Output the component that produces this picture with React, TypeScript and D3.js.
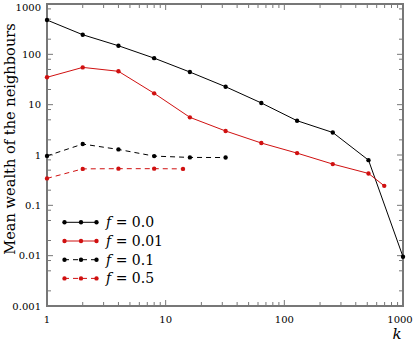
import React, { useEffect, useRef } from 'react';
import * as d3 from 'd3';

// degree k and mean wealth of neighbours for each f
const k0 = [1, 2, 4, 8, 16, 32, 64, 128, 256, 512, 1000];
const w0 = [480, 245, 148, 84, 44.5, 22.7, 10.8, 4.8, 2.8, 0.79, 0.0095];
const k1 = [1, 2, 4, 8, 16, 32, 64, 128, 256, 512, 695];
const w1 = [35, 55, 46, 16.8, 5.6, 3.0, 1.73, 1.09, 0.66, 0.43, 0.244];
const k2 = [1, 2, 4, 8, 16, 32];
const w2 = [0.96, 1.65, 1.29, 0.95, 0.895, 0.89];
const k3 = [1, 2, 4, 8, 14];
const w3 = [0.343, 0.53, 0.535, 0.535, 0.53];
const seriesLabels = ['0.0', '0.01', '0.1', '0.5'];
const yTickLabels = ['0.001', '0.01', '0.1', '1', '10', '100', '1000'];
const xTickLabels = ['1', '10', '100', '1000'];

const App = () => {
  const ref = useRef(null);

  useEffect(() => {
    const width = 415;
    const height = 342;
    const left = 47, right = 403, top = 4, bottom = 306;
    const axisColor = '#777';
    const font = '"DejaVu Serif", serif';

    const svg = d3.select(ref.current);
    svg.selectAll('*').remove();
    svg.attr('width', width).attr('height', height);

    const x = d3.scaleLog().domain([1, 1000]).range([left, right]);
    const y = d3.scaleLog().domain([0.001, 1000]).range([bottom, top]);

    const series = [
      { k: k0, w: w0, color: '#000', dash: null },
      { k: k1, w: w1, color: '#d01010', dash: null },
      { k: k2, w: w2, color: '#000', dash: '5,4' },
      { k: k3, w: w3, color: '#d01010', dash: '5,4' },
    ];

    // ticks: x minor 2..9, y minor 2,5,8
    const g = svg.append('g').attr('stroke', axisColor).attr('stroke-width', 1);
    for (let d = 1; d <= 1000; d *= 10) {
      const xs = [d];
      if (d < 1000) for (let m = 2; m <= 9; m++) xs.push(d * m);
      xs.forEach((v, i) => {
        const len = i === 0 ? 6 : 4;
        g.append('line').attr('x1', x(v)).attr('x2', x(v)).attr('y1', bottom).attr('y2', bottom - len);
        g.append('line').attr('x1', x(v)).attr('x2', x(v)).attr('y1', top).attr('y2', top + len);
      });
    }
    for (let d = 0.001; d <= 1000.5; d *= 10) {
      const ys = [d];
      if (d < 999) [2, 5, 8].forEach(m => ys.push(d * m));
      ys.forEach((v, i) => {
        const len = i === 0 ? 6 : 4;
        g.append('line').attr('y1', y(v)).attr('y2', y(v)).attr('x1', left).attr('x2', left + len);
        g.append('line').attr('y1', y(v)).attr('y2', y(v)).attr('x1', right).attr('x2', right - len);
      });
    }

    // frame
    svg.append('rect')
      .attr('x', left).attr('y', top)
      .attr('width', right - left).attr('height', bottom - top)
      .attr('fill', 'none').attr('stroke', axisColor).attr('stroke-width', 2);

    // tick labels
    yTickLabels.forEach(t => {
      svg.append('text')
        .attr('x', 41).attr('y', Math.max(y(+t), 7)).attr('dy', '0.35em')
        .attr('text-anchor', 'end')
        .attr('font-family', font).attr('font-size', 10)
        .text(t);
    });
    xTickLabels.forEach(t => {
      svg.append('text')
        .attr('x', Math.min(x(+t), 400)).attr('y', 323)
        .attr('text-anchor', 'middle')
        .attr('font-family', font).attr('font-size', 10)
        .text(t);
    });

    // axis titles
    svg.append('text')
      .attr('transform', `translate(15, ${(top + bottom) / 2 - 16}) rotate(-90)`)
      .attr('text-anchor', 'middle')
      .attr('font-family', font).attr('font-size', 14.6)
      .text('Mean wealth of the neighbours');
    svg.append('text')
      .attr('x', 397).attr('y', 339)
      .attr('text-anchor', 'middle')
      .attr('font-family', font).attr('font-size', 15).attr('font-style', 'italic')
      .text('k');

    const line = d3.line().x(d => x(d[0])).y(d => y(d[1]));
    const marker = d3.symbol().type(d3.symbolCircle).size(15);

    series.forEach(s => {
      const pts = s.k.map((k, i) => [k, s.w[i]]);
      svg.append('path')
        .datum(pts)
        .attr('d', line)
        .attr('fill', 'none')
        .attr('stroke', s.color)
        .attr('stroke-width', 1)
        .attr('stroke-dasharray', s.dash);
      svg.selectAll(null)
        .data(pts)
        .join('path')
        .attr('d', marker)
        .attr('transform', d => `translate(${x(d[0])},${y(d[1])})`)
        .attr('fill', s.color);
    });

    // legend
    const lg = svg.append('g');
    series.forEach((s, i) => {
      const ly = 222.3 + i * 18.7;
      lg.append('line')
        .attr('x1', 64).attr('x2', 97).attr('y1', ly).attr('y2', ly)
        .attr('stroke', s.color).attr('stroke-width', 1)
        .attr('stroke-dasharray', s.dash);
      [64.5, 81, 96.5].forEach(mx => {
        lg.append('path').attr('d', marker)
          .attr('transform', `translate(${mx},${ly})`)
          .attr('fill', s.color);
      });
      const t = lg.append('text')
        .attr('x', 106).attr('y', ly).attr('dy', '0.35em')
        .attr('font-family', font).attr('font-size', 14);
      t.append('tspan').attr('font-style', 'italic').text('f');
      t.append('tspan').text(` = ${seriesLabels[i]}`);
    });
  }, []);

  return (
    <svg ref={ref} style={{ position: 'absolute', left: 0, top: 0, display: 'block', background: '#fff' }} />
  );
};

export default App;
